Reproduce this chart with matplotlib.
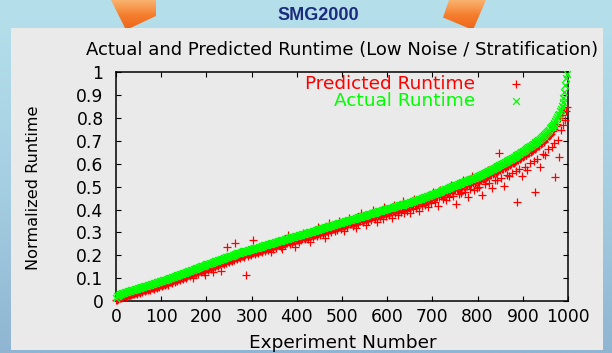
import numpy as np
import matplotlib
matplotlib.use("Agg")
import matplotlib.pyplot as plt
from matplotlib.patches import Polygon, Rectangle
from matplotlib.colors import LinearSegmentedColormap

# ---------------- data (normalized runtime x 1000), experiments 0,2,4,...,998 ----------------
actual_runtime_x1000 = [
    15, 20, 24, 27, 29, 30, 32, 34, 35, 37, 38, 39, 40, 42, 43, 44, 45, 46, 47, 49,
    50, 51, 53, 54, 55, 56, 58, 59, 60, 61, 62, 64, 65, 66, 67, 69, 70, 71, 72, 74,
    75, 76, 77, 79, 80, 81, 82, 84, 85, 86, 87, 89, 90, 91, 92, 94, 95, 96, 97, 99,
    100, 102, 103, 105, 106, 108, 109, 111, 112, 114, 115, 117, 118, 120, 121, 123, 124, 126, 127, 129,
    130, 131, 133, 134, 136, 137, 139, 140, 142, 143, 145, 146, 148, 149, 151, 152, 154, 155, 157, 158,
    160, 161, 163, 164, 166, 167, 168, 170, 171, 173, 174, 175, 177, 178, 180, 181, 182, 184, 185, 187,
    188, 189, 191, 192, 194, 195, 196, 198, 199, 201, 202, 203, 205, 206, 208, 209, 210, 212, 213, 215,
    216, 217, 218, 219, 220, 221, 222, 223, 224, 226, 227, 228, 229, 230, 231, 232, 233, 234, 235, 237,
    238, 239, 240, 242, 243, 244, 245, 246, 248, 249, 250, 251, 252, 254, 255, 256, 257, 258, 260, 261,
    262, 263, 264, 265, 267, 268, 269, 270, 271, 272, 273, 275, 276, 277, 278, 279, 280, 281, 283, 284,
    285, 286, 287, 288, 290, 291, 292, 293, 294, 295, 296, 298, 299, 300, 301, 302, 303, 304, 306, 307,
    308, 309, 310, 312, 313, 314, 315, 317, 318, 319, 320, 322, 323, 324, 325, 327, 328, 329, 330, 332,
    333, 334, 335, 336, 337, 339, 340, 341, 342, 343, 344, 346, 347, 348, 349, 350, 351, 353, 354, 355,
    356, 357, 358, 360, 361, 362, 363, 364, 366, 367, 368, 369, 370, 372, 373, 374, 375, 376, 378, 379,
    380, 381, 382, 383, 385, 386, 387, 388, 389, 391, 392, 393, 394, 395, 397, 398, 399, 400, 401, 403,
    404, 405, 406, 407, 408, 409, 410, 411, 413, 414, 415, 416, 417, 418, 419, 420, 421, 422, 424, 425,
    426, 427, 429, 430, 431, 432, 434, 435, 436, 438, 439, 440, 441, 443, 444, 445, 447, 448, 449, 450,
    452, 453, 455, 456, 458, 459, 461, 462, 464, 465, 467, 468, 470, 471, 473, 474, 476, 477, 479, 481,
    483, 484, 486, 487, 489, 491, 492, 494, 495, 497, 498, 500, 502, 503, 505, 506, 508, 509, 511, 512,
    514, 515, 517, 519, 520, 522, 523, 525, 526, 528, 529, 531, 532, 534, 535, 537, 538, 540, 542, 543,
    545, 547, 549, 551, 553, 555, 557, 559, 561, 563, 565, 567, 569, 571, 573, 575, 577, 579, 581, 583,
    585, 587, 589, 592, 594, 596, 598, 601, 603, 605, 607, 610, 612, 614, 616, 619, 621, 623, 625, 628,
    630, 632, 635, 638, 640, 643, 645, 648, 651, 653, 656, 658, 661, 664, 666, 669, 672, 674, 677, 679,
    682, 685, 688, 691, 694, 697, 700, 703, 706, 709, 712, 716, 720, 724, 728, 733, 737, 741, 746, 750,
    755, 760, 765, 770, 775, 780, 788, 796, 804, 812, 820, 830, 842, 855, 870, 888, 915, 945, 975, 995,
]

predicted_runtime_x1000 = [
    3, 6, 9, 12, 14, 13, 17, 19, 16, 21, 22, 18, 24, 26, 23, 27, 29, 25, 31, 32,
    30, 34, 36, 31, 38, 40, 36, 42, 44, 39, 46, 47, 43, 49, 51, 46, 53, 54, 50, 56,
    57, 59, 54, 61, 63, 58, 65, 66, 60, 68, 70, 65, 72, 73, 68, 76, 78, 72, 80, 81,
    83, 85, 80, 88, 90, 84, 92, 94, 88, 96, 98, 92, 100, 102, 96, 105, 107, 100, 109, 111,
    113, 114, 108, 117, 118, 100, 121, 123, 116, 126, 127, 120, 130, 132, 125, 134, 136, 128, 139, 115,
    142, 143, 137, 146, 148, 140, 150, 128, 153, 155, 148, 157, 159, 152, 162, 163, 132, 166, 168, 160,
    170, 172, 165, 235, 176, 170, 179, 181, 174, 183, 185, 178, 252, 188, 182, 191, 193, 186, 195, 197,
    198, 200, 193, 202, 113, 204, 197, 206, 207, 200, 209, 266, 211, 213, 205, 215, 216, 208, 218, 220,
    221, 222, 214, 225, 226, 218, 228, 230, 222, 232, 233, 215, 235, 237, 229, 239, 240, 232, 243, 244,
    245, 246, 238, 248, 228, 251, 252, 244, 254, 255, 288, 258, 250, 260, 261, 253, 263, 264, 238, 267,
    268, 269, 260, 271, 273, 265, 275, 298, 277, 270, 279, 281, 272, 283, 284, 258, 286, 287, 279, 290,
    291, 292, 283, 295, 322, 297, 289, 300, 301, 292, 303, 275, 306, 307, 298, 310, 340, 312, 303, 315,
    316, 317, 308, 319, 320, 311, 323, 350, 325, 316, 327, 329, 305, 331, 332, 323, 334, 336, 362, 338,
    339, 340, 330, 343, 344, 320, 346, 347, 338, 349, 350, 383, 353, 344, 356, 357, 332, 359, 361, 352,
    362, 364, 354, 366, 400, 369, 359, 371, 372, 345, 374, 376, 366, 378, 380, 358, 382, 413, 384, 374,
    386, 387, 376, 389, 390, 365, 392, 420, 395, 384, 397, 398, 378, 400, 401, 390, 403, 438, 406, 385,
    407, 408, 394, 411, 412, 385, 415, 416, 402, 419, 446, 421, 408, 424, 425, 395, 428, 429, 415, 431,
    432, 434, 418, 437, 438, 410, 441, 442, 428, 445, 447, 475, 450, 434, 453, 454, 415, 457, 485, 460,
    462, 463, 445, 466, 468, 440, 471, 473, 455, 476, 477, 508, 480, 460, 484, 485, 425, 488, 490, 468,
    492, 493, 472, 497, 528, 500, 478, 503, 504, 455, 507, 509, 488, 512, 545, 515, 485, 518, 520, 495,
    522, 524, 498, 528, 530, 465, 534, 536, 510, 540, 542, 575, 546, 518, 550, 552, 495, 556, 558, 530,
    561, 563, 530, 568, 647, 572, 538, 577, 579, 505, 583, 586, 552, 590, 592, 545, 597, 599, 562, 604,
    605, 607, 568, 613, 434, 618, 578, 623, 626, 545, 631, 633, 588, 639, 641, 575, 647, 649, 605, 654,
    656, 659, 612, 665, 478, 671, 622, 677, 680, 585, 686, 690, 642, 698, 702, 640, 711, 715, 665, 724,
    728, 733, 675, 742, 690, 752, 544, 768, 775, 705, 632, 800, 748, 815, 770, 826, 840, 790, 830, 848,
]

experiment_number = np.arange(0, 1000, 2)
actual = np.array(actual_runtime_x1000) / 1000.0
predicted = np.array(predicted_runtime_x1000) / 1000.0

x_ticks = [0, 100, 200, 300, 400, 500, 600, 700, 800, 900, 1000]
x_tick_labels = ["0", "100", "200", "300", "400", "500", "600", "700", "800", "900", "1000"]
y_ticks = [0, 0.1, 0.2, 0.3, 0.4, 0.5, 0.6, 0.7, 0.8, 0.9, 1.0]
y_tick_labels = ["0", "0.1", "0.2", "0.3", "0.4", "0.5", "0.6", "0.7", "0.8", "0.9", "1"]

header_text = "SMG2000"
title_text = "Actual and Predicted Runtime (Low Noise / Stratification)"
series_labels = ["Predicted Runtime", "Actual Runtime"]

# ---------------- figure ----------------
plt.rcParams["font.family"] = ["DejaVu Sans"]
W, H = 612, 353
fig = plt.figure(figsize=(W / 100, H / 100), dpi=100)

# slide background
bg = fig.add_axes([0, 0, 1, 1])
bg.set_xlim(0, W)
bg.set_ylim(H, 0)
bg.axis("off")
grad = np.linspace(0, 1, 256).reshape(-1, 1)
cmap_bg = LinearSegmentedColormap.from_list("bg", ["#B5E0EB", "#A6D0E2", "#8FB5D2"])
bg.imshow(grad, extent=[0, W, H, 0], aspect="auto", cmap=cmap_bg, zorder=0)

# orange arrows (partially hidden behind the panel)
cmap_or = LinearSegmentedColormap.from_list("or", ["#F9B36E", "#F57E2E", "#EE6418"])
for verts in ([(111, 0), (156, 0), (156, 16), (126, 30)],
              [(449, 0), (486, 0), (473, 30), (443, 17.5)]):
    poly = Polygon(verts, closed=True, facecolor="none", edgecolor="none", zorder=1)
    bg.add_patch(poly)
    xs = [v[0] for v in verts]
    im = bg.imshow(np.linspace(0, 1, 64).reshape(-1, 1), extent=[min(xs), max(xs), 30, 0],
                   aspect="auto", cmap=cmap_or, zorder=1)
    im.set_clip_path(poly)

# content panel
bg.add_patch(Rectangle((11, 28), 603 - 11, 350 - 28, facecolor="#EAEAEA",
                       edgecolor="none", zorder=2))

bg.text(318, 15, header_text, ha="center", va="center", fontsize=13, fontweight="bold",
        color="#1C2C7C", family=["Liberation Sans Narrow", "Liberation Sans", "DejaVu Sans"],
        zorder=3)

# ---------------- chart ----------------
ax = fig.add_axes([116 / W, 1 - 301 / H, 452 / W, 228.5 / H])
ax.set_facecolor("none")

ax.scatter(experiment_number, predicted, marker="+", s=32, c="#FF0000",
           linewidths=0.9, clip_on=False, zorder=3)
ax.scatter(experiment_number, actual, marker="x", s=24, c="#00FF00",
           linewidths=1.0, clip_on=False, zorder=4)

ax.set_xlim(0, 1000)
ax.set_ylim(0, 1)
ax.set_xticks(x_ticks)
ax.set_xticklabels(x_tick_labels)
ax.set_yticks(y_ticks)
ax.set_yticklabels(y_tick_labels)
ax.tick_params(direction="in", length=3.5, width=0.8, top=True, right=True,
               labelsize=12.3, colors="black")
ax.tick_params(axis="x", pad=5)
ax.tick_params(axis="y", pad=9)
for sp in ax.spines.values():
    sp.set_linewidth(1.1)
    sp.set_color("black")

ax.set_title(title_text, fontsize=13, y=1.078, pad=0)
ax.set_xlabel("Experiment Number", fontsize=13.3)
ax.xaxis.set_label_coords(0.501, -0.182)
ax.xaxis.label.set_va("center")
ax.set_ylabel("Normalized Runtime", fontsize=11.6)
ax.yaxis.set_label_coords(-0.183, 0.497)
ax.yaxis.label.set_va("center")

# key (gnuplot style: right-aligned text, sample to the right)
key_colors = ["#FF0000", "#00FF00"]
key_markers = ["+", "x"]
key_sizes = [32, 24]
key_y = [0.950, 0.877]
for lab, col, mk, sz, yy in zip(series_labels, key_colors, key_markers, key_sizes, key_y):
    ax.text(0.794, yy, lab, transform=ax.transAxes, ha="right", va="center",
            fontsize=13.3, color=col)
    ax.scatter([0.885], [yy], marker=mk, s=sz, c=col, linewidths=0.9,
               transform=ax.transAxes, clip_on=False, zorder=5)

fig.savefig("out.png", dpi=100)
